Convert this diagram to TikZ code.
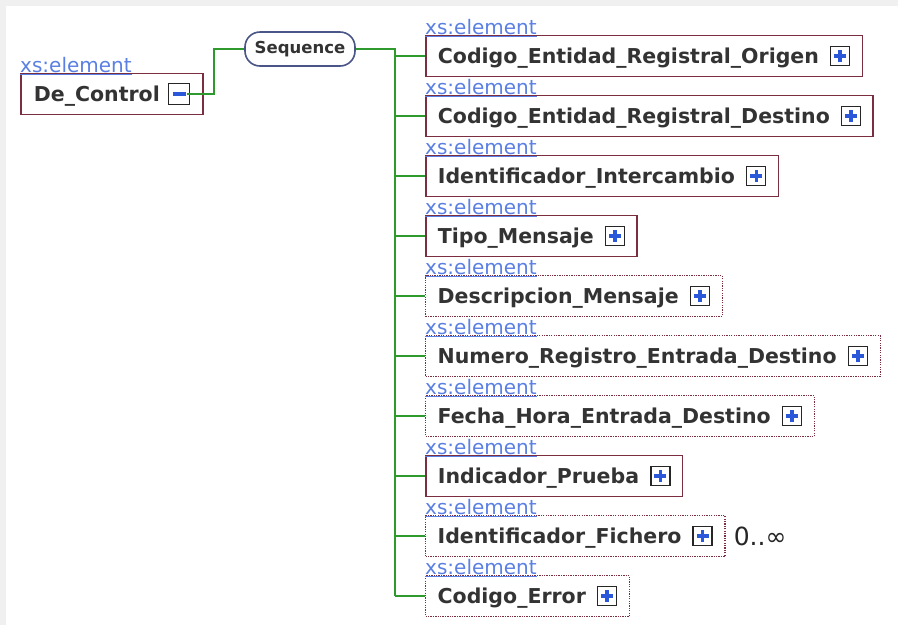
\documentclass[tikz,border=0pt]{standalone}
\usepackage{fontspec}
\setmainfont{DejaVu Sans}
\usepackage{tikz}
\usetikzlibrary{positioning}
\definecolor{xsdmaroon}{HTML}{7A2E40}
\definecolor{xsdgreen}{HTML}{2E9A2E}
\definecolor{xsdblue}{HTML}{2B58D8}
\definecolor{xsdlabel}{HTML}{5B80E4}
\definecolor{xsdnavy}{HTML}{4A5687}
\definecolor{xsdtext}{HTML}{333333}
\definecolor{xsdframe}{HTML}{F0F0F0}
\newcommand{\plusicon}{\tikz[baseline=0pt,x=1pt,y=1pt]{%
  \draw[solid,line width=1.5pt,draw=black!85,fill=white] (0,-2) rectangle (19,17);
  \draw[solid,line width=3.4pt,xsdblue] (3.5,7.5) -- (15.5,7.5) (9.5,1.5) -- (9.5,13.5);}}
\newcommand{\minusicon}{\tikz[baseline=0pt,x=1pt,y=1pt]{%
  \draw[solid,line width=1.5pt,draw=black!85,fill=white] (0,-3) rectangle (21,18);
  \draw[solid,line width=3.4pt,xsdblue] (4,7.5) -- (17,7.5);}}
\newcommand{\elname}[1]{#1\hspace{11pt}\plusicon\hspace{5pt}}

\begin{document}
\begin{tikzpicture}[x=1pt, y=-1pt,
    elem/.style    = {rectangle, draw=xsdmaroon, line width=1.8pt, fill=white,
                      text=xsdtext, font=\fontsize{20.5pt}{24pt}\selectfont\bfseries,
                      inner xsep=12pt, minimum height=41pt, text height=15pt,
                      text depth=0pt, anchor=west,
                      label={[xslabel]north west:{\underline{xs:element}}}},
    optelem/.style = {elem, line width=1.3pt, dash pattern=on 1.3pt off 1.1pt},
    xslabel/.style = {anchor=base west, inner sep=0pt, yshift=0.5pt, text=xsdlabel,
                      font=\fontsize{20pt}{22pt}\selectfont},
    seqbox/.style  = {rectangle, rounded corners=15pt, draw=xsdnavy, line width=1.6pt,
                      fill=white, text=xsdtext, minimum width=110pt, minimum height=34pt,
                      font=\fontsize{16.5pt}{20pt}\selectfont\bfseries},
    occurs/.style  = {inner sep=0pt, text=black!85, font=\fontsize{25pt}{28pt}\selectfont},
    link/.style    = {line width=1.8pt, xsdgreen},
]

  % frame
  \fill[xsdframe] (0,0) rectangle (898,625);
  \fill[white] (6,6) rectangle (898,625);
  \useasboundingbox (0,0) rectangle (898,625);

  \node[elem, inner xsep=13pt] (dc) at (20,94) {De\_Control\hspace{8pt}\minusicon\hspace{4pt}};
  \node[seqbox] (seq) at (300,49) {Sequence};
  \coordinate (spine) at (395,49);

  % children of the sequence
  \node[elem]    (c1)  at (425,56)  {\elname{Codigo\_Entidad\_Registral\_Origen}};
  \node[elem]    (c2)  at (425,116) {\elname{Codigo\_Entidad\_Registral\_Destino}};
  \node[elem]    (c3)  at (425,176) {\elname{Identificador\_Intercambio}};
  \node[elem]    (c4)  at (425,236) {\elname{Tipo\_Mensaje}};
  \node[optelem] (c5)  at (425,296) {\elname{Descripcion\_Mensaje}};
  \node[optelem] (c6)  at (425,356) {\elname{Numero\_Registro\_Entrada\_Destino}};
  \node[optelem] (c7)  at (425,416) {\elname{Fecha\_Hora\_Entrada\_Destino}};
  \node[elem]    (c8)  at (425,476) {\elname{Indicador\_Prueba}};
  \node[optelem] (c9)  at (425,536) {\elname{Identificador\_Fichero}};
  \node[optelem] (c10) at (425,596) {\elname{Codigo\_Error}};
  \node[occurs, right=8pt of c9] (occ9) {0..∞};

  % connectors
  \draw[link] ([xshift=-17pt]dc.east) -- ++(27,0) |- (seq.west);
  \draw[link] (seq.east) -| (spine |- c10.west);
  \draw[link] (spine |- c1.west) -- (c1.west)
              (spine |- c2.west) -- (c2.west)
              (spine |- c3.west) -- (c3.west)
              (spine |- c4.west) -- (c4.west)
              (spine |- c5.west) -- (c5.west)
              (spine |- c6.west) -- (c6.west)
              (spine |- c7.west) -- (c7.west)
              (spine |- c8.west) -- (c8.west)
              (spine |- c9.west) -- (c9.west)
              (spine |- c10.west) -- (c10.west);

\end{tikzpicture}
\end{document}
